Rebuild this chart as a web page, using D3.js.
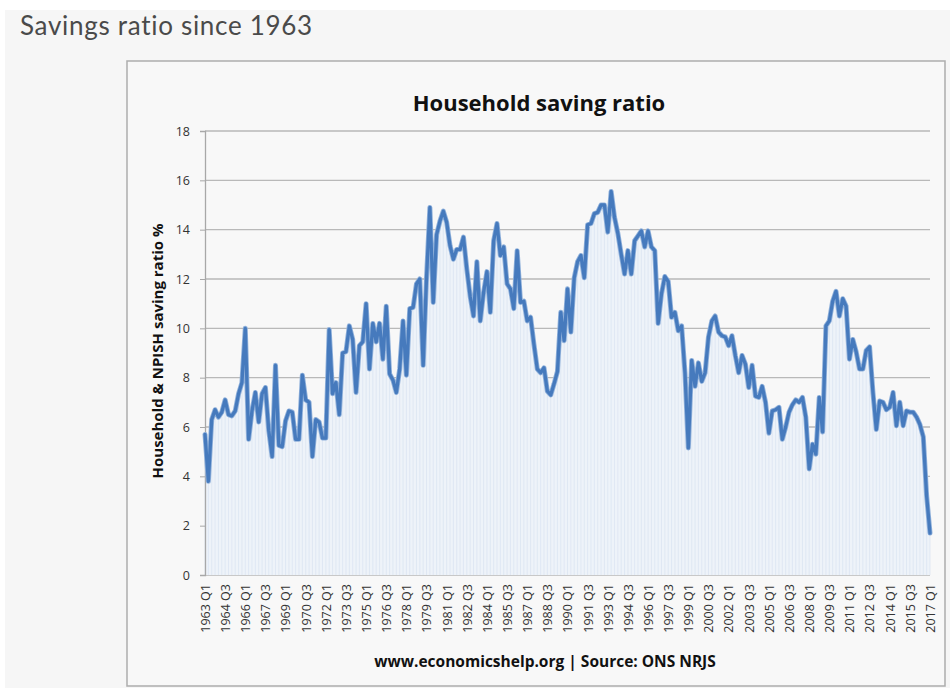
<!DOCTYPE html>
<html>
<head>
<meta charset="utf-8">
<script src="https://cdn.jsdelivr.net/npm/d3@7"></script>
<style>
  html, body { margin: 0; padding: 0; background: #ffffff; }
  svg { display: block; }
</style>
</head>
<body>
<div id="canvas"></div>
<script>
// quarterly household saving ratio, 1963 Q1 .. 2017 Q1
var savingRatio = [
  5.7, 3.8, 6.3, 6.7, 6.4, 6.6, 7.1, 6.5, 6.45, 6.65, 7.35, 7.8,
  10.0, 5.5, 6.65, 7.4, 6.2, 7.35, 7.6, 5.85, 4.8, 8.5, 5.25, 5.2,
  6.25, 6.65, 6.6, 5.5, 5.5, 8.1, 7.1, 7.0, 4.8, 6.3, 6.2, 5.55,
  5.55, 9.95, 7.35, 7.8, 6.5, 9.0, 9.05, 10.1, 9.55, 7.4, 9.3, 9.45,
  11.0, 8.35, 10.2, 9.45, 10.2, 8.75, 10.9, 8.15, 7.9, 7.4, 8.35, 10.3,
  8.1, 10.8, 10.85, 11.8, 12.0, 8.5, 12.05, 14.9, 11.05, 13.8, 14.35, 14.75,
  14.3, 13.35, 12.8, 13.2, 13.2, 13.7, 12.4, 11.3, 10.5, 12.7, 10.3, 11.45,
  12.3, 10.65, 13.55, 14.25, 12.95, 13.3, 11.8, 11.6, 10.8, 13.15, 11.05, 11.1,
  10.3, 10.45, 9.35, 8.35, 8.2, 8.4, 7.45, 7.3, 7.75, 8.25, 10.65, 9.5,
  11.6, 9.85, 12.05, 12.7, 12.95, 12.05, 14.2, 14.25, 14.65, 14.7, 15.0, 15.0,
  13.9, 15.55, 14.5, 13.85, 13.0, 12.2, 13.15, 12.2, 13.55, 13.75, 13.95, 13.3,
  13.95, 13.3, 13.15, 10.2, 11.4, 12.1, 11.9, 10.45, 10.65, 9.9, 10.1, 8.2,
  5.15, 8.7, 7.65, 8.6, 7.85, 8.2, 9.65, 10.3, 10.5, 9.85, 9.7, 9.65,
  9.3, 9.7, 8.9, 8.2, 8.9, 8.55, 7.6, 8.5, 7.25, 7.2, 7.65, 7.0,
  5.75, 6.65, 6.7, 6.8, 5.5, 6.0, 6.6, 6.9, 7.1, 7.0, 7.2, 6.4,
  4.3, 5.3, 4.9, 7.2, 5.8, 10.1, 10.3, 11.1, 11.5, 10.5, 11.2, 10.9,
  8.75, 9.55, 9.05, 8.35, 8.35, 9.1, 9.25, 7.4, 5.9, 7.05, 7.0, 6.7,
  6.8, 7.4, 6.05, 7.0, 6.05, 6.65, 6.6, 6.6, 6.4, 6.1, 5.6, 3.2,
  1.7
];

var tickLabels = [
  '1963 Q1', '1964 Q3', '1966 Q1', '1967 Q3', '1969 Q1', '1970 Q3', '1972 Q1',
  '1973 Q3', '1975 Q1', '1976 Q3', '1978 Q1', '1979 Q3', '1981 Q1', '1982 Q3',
  '1984 Q1', '1985 Q3', '1987 Q1', '1988 Q3', '1990 Q1', '1991 Q3', '1993 Q1',
  '1994 Q3', '1996 Q1', '1997 Q3', '1999 Q1', '2000 Q3', '2002 Q1', '2003 Q3',
  '2005 Q1', '2006 Q3', '2008 Q1', '2009 Q3', '2011 Q1', '2012 Q3', '2014 Q1',
  '2015 Q3', '2017 Q1'
];

var yTicks = [0, 2, 4, 6, 8, 10, 12, 14, 16, 18];

var W = 950, H = 688;
var LEFT = 205, RIGHT = 930, TOP = 131, BOTTOM = 575;
var LABEL_EVERY = 6;
var FONT = "'Open Sans', 'Noto Sans', sans-serif";

var svg = d3.select('#canvas').append('svg')
    .attr('width', W)
    .attr('height', H);

// page panel and chart box
svg.append('rect')
    .attr('x', 5).attr('y', 10)
    .attr('width', W - 5).attr('height', H - 10)
    .attr('fill', '#f6f6f6');

svg.append('text')
    .attr('x', 20).attr('y', 35)
    .attr('fill', '#4a4a4a')
    .style('font-family', "Lato, 'Open Sans', sans-serif")
    .style('font-size', '26px')
    .style('letter-spacing', '0.7px')
    .text('Savings ratio since 1963');

svg.append('rect')
    .attr('x', 127).attr('y', 61)
    .attr('width', 818).attr('height', 625)
    .attr('fill', '#f8f8f8')
    .attr('stroke', '#adadad')
    .attr('stroke-width', 1.5);

svg.append('text')
    .attr('x', 539).attr('y', 111)
    .attr('text-anchor', 'middle')
    .attr('fill', '#111')
    .style('font-family', FONT)
    .style('font-weight', 'bold')
    .style('font-size', '22px')
    .text('Household saving ratio');

var x = d3.scaleLinear()
    .domain([0, savingRatio.length - 1])
    .range([LEFT, RIGHT]);

var y = d3.scaleLinear()
    .domain([0, 18])
    .range([BOTTOM, TOP]);

// horizontal grid
svg.append('g')
    .selectAll('line')
    .data(yTicks)
    .enter()
    .append('line')
    .attr('x1', LEFT).attr('x2', RIGHT)
    .attr('y1', function(d) { return y(d); })
    .attr('y2', function(d) { return y(d); })
    .attr('stroke', '#b9b9b9')
    .attr('stroke-width', 1.3);

// pale fill under the line, with fine vertical hatching
var area = d3.area()
    .x(function(d, i) { return x(i); })
    .y0(y(0))
    .y1(function(d) { return y(d); });

svg.append('path')
    .datum(savingRatio)
    .attr('d', area)
    .attr('fill', '#eef3f9');

svg.append('g')
    .selectAll('line')
    .data(savingRatio)
    .enter()
    .append('line')
    .attr('x1', function(d, i) { return x(i); })
    .attr('x2', function(d, i) { return x(i); })
    .attr('y1', y(0))
    .attr('y2', function(d) { return y(d); })
    .attr('stroke', '#d9e3f0')
    .attr('stroke-width', 0.7);

// y axis
var yAxis = svg.append('g')
    .attr('transform', 'translate(' + LEFT + ',0)')
    .call(d3.axisLeft(y).tickValues(yTicks).tickSize(5).tickPadding(10));
yAxis.select('.domain').attr('stroke', '#a8a8a8').attr('stroke-width', 1.3);
yAxis.selectAll('line').attr('stroke', '#a8a8a8');
yAxis.selectAll('text')
    .attr('fill', '#333')
    .style('font-family', FONT)
    .style('font-size', '12.5px');

// x axis labels (every 6th quarter)
var xAxis = svg.append('g')
    .attr('transform', 'translate(0,' + BOTTOM + ')')
    .call(d3.axisBottom(x)
        .tickValues(d3.range(0, savingRatio.length, LABEL_EVERY))
        .tickFormat(function(d) { return tickLabels[d / LABEL_EVERY]; })
        .tickSize(0));
xAxis.select('.domain').remove();
xAxis.selectAll('text')
    .attr('transform', 'rotate(-90)')
    .attr('text-anchor', 'end')
    .attr('x', -9)
    .attr('y', 0)
    .attr('dy', '0.35em')
    .attr('fill', '#333')
    .style('font-family', FONT)
    .style('font-size', '12.5px');

// the series line
var line = d3.line()
    .x(function(d, i) { return x(i); })
    .y(function(d) { return y(d); });

svg.append('path')
    .datum(savingRatio)
    .attr('d', line)
    .attr('fill', 'none')
    .attr('stroke', '#8fb0da')
    .attr('stroke-width', 5)
    .attr('stroke-linejoin', 'round')
    .attr('stroke-linecap', 'round');

svg.append('path')
    .datum(savingRatio)
    .attr('d', line)
    .attr('fill', 'none')
    .attr('stroke', '#467abd')
    .attr('stroke-width', 3.3)
    .attr('stroke-linejoin', 'round')
    .attr('stroke-linecap', 'round');

// y axis title
svg.append('text')
    .attr('transform', 'translate(163,' + ((TOP + BOTTOM) / 2 - 2) + ') rotate(-90)')
    .attr('text-anchor', 'middle')
    .attr('fill', '#111')
    .style('font-family', FONT)
    .style('font-weight', 'bold')
    .style('font-size', '15px')
    .text('Household & NPISH saving ratio %');

// footer
svg.append('text')
    .attr('x', 545).attr('y', 667)
    .attr('text-anchor', 'middle')
    .attr('fill', '#111')
    .style('font-family', FONT)
    .style('font-weight', 'bold')
    .style('font-size', '15.5px')
    .text('www.economicshelp.org | Source: ONS NRJS');
</script>
</body>
</html>
